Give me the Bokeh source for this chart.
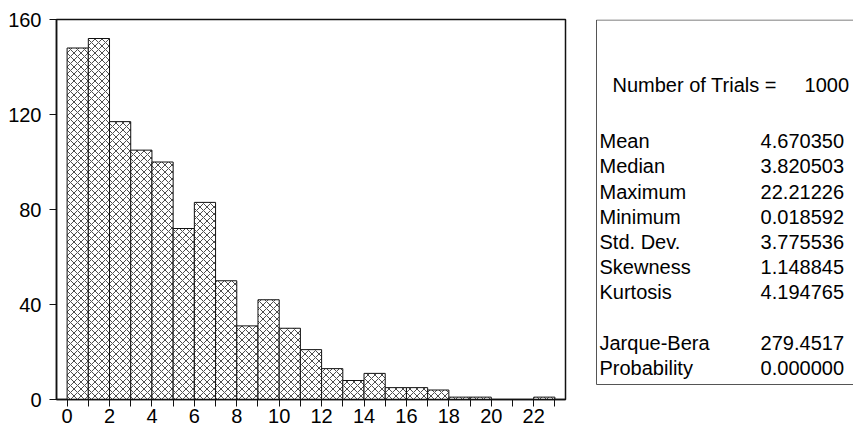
from bokeh.plotting import figure
from bokeh.models import Range1d, FixedTicker, ColumnDataSource
from bokeh.layouts import row
from bokeh.embed import file_html
from bokeh.resources import INLINE
from bokeh.core.properties import value

# ---- data ----
bin_left = [0, 1, 2, 3, 4, 5, 6, 7, 8, 9, 10, 11, 12, 13, 14, 15, 16, 17, 18, 19, 20, 21, 22]
bin_right = [1, 2, 3, 4, 5, 6, 7, 8, 9, 10, 11, 12, 13, 14, 15, 16, 17, 18, 19, 20, 21, 22, 23]
counts = [148, 152, 117, 105, 100, 72, 83, 50, 31, 42, 30, 21, 13, 8, 11, 5, 5, 4, 1, 1, 0, 0, 1]
x_major_ticks = [0, 2, 4, 6, 8, 10, 12, 14, 16, 18, 20, 22]
x_minor_ticks = [1, 3, 5, 7, 9, 11, 13, 15, 17, 19, 21, 23]
y_ticks = [0, 40, 80, 120, 160]

trials_label = "Number of Trials ="
trials_value = "1000"
stat_labels = ["Mean", "Median", "Maximum", "Minimum", "Std. Dev.", "Skewness", "Kurtosis",
               "Jarque-Bera", "Probability"]
stat_values = ["4.670350", "3.820503", "22.21226", "0.018592", "3.775536", "1.148845", "4.194765",
               "279.4517", "0.000000"]
stat_rows = [0, 1, 2, 3, 4, 5, 6, 8, 9]

FONT = "Liberation Sans"
FS = "20px"
INK = "#111111"

# ---- histogram ----
H = 425
TOP = 19
BOTTOM = 26
p1 = figure(width=588, height=H, output_backend="svg", toolbar_location=None,
            x_range=Range1d(-0.5, 23.5), y_range=Range1d(0, 160),
            min_border_left=56, min_border_right=23, min_border_top=TOP, min_border_bottom=0)
p1.xgrid.visible = False
p1.ygrid.visible = False
p1.background_fill_color = "white"
p1.border_fill_color = "white"
p1.outline_line_color = INK
p1.outline_line_width = 1.5

src = ColumnDataSource(dict(left=bin_left, right=bin_right, top=counts, bottom=[0] * len(counts)))
p1.quad(left="left", right="right", top="top", bottom="bottom", source=src,
        fill_color="white", line_color=INK, line_width=1,
        hatch_pattern="diagonal_cross", hatch_scale=7, hatch_color="#4d4d4d", hatch_weight=1)

xa = p1.xaxis[0]
xa.ticker = FixedTicker(ticks=x_major_ticks, minor_ticks=x_minor_ticks)
xa.major_tick_out = 7
xa.major_tick_in = 0
xa.minor_tick_out = 7
xa.minor_tick_in = 0
xa.major_tick_line_color = INK
xa.minor_tick_line_color = INK
xa.axis_line_color = INK
xa.axis_line_width = 1.5
xa.major_label_standoff = 2
xa.major_label_text_font = FONT
xa.major_label_text_font_size = FS
xa.major_label_text_color = "black"

ya = p1.yaxis[0]
ya.ticker = FixedTicker(ticks=y_ticks, minor_ticks=[])
ya.major_tick_out = 7
ya.major_tick_in = 0
ya.major_tick_line_color = INK
ya.axis_line_color = INK
ya.axis_line_width = 1.5
ya.major_label_standoff = 8
ya.major_label_text_font = FONT
ya.major_label_text_font_size = FS
ya.major_label_text_color = "black"

# ---- statistics panel (coordinates: panel pixels in x, page pixels in y, downwards) ----
W2 = 265
p2 = figure(width=W2, height=H, output_backend="svg", toolbar_location=None,
            x_range=Range1d(0, W2), y_range=Range1d(H - BOTTOM, TOP),
            min_border_left=0, min_border_right=0,
            min_border_top=TOP, min_border_bottom=BOTTOM)
p2.axis.visible = False
p2.xgrid.visible = False
p2.ygrid.visible = False
p2.outline_line_color = None
p2.background_fill_color = "white"
p2.border_fill_color = "white"

box_left, box_top, box_bottom = 8, 19.5, 384
p2.quad(left=[box_left], right=[W2 + 20], top=[box_top], bottom=[box_bottom],
        fill_color=None, line_color="#555555", line_width=1)

p2.text(x=[24], y=[84], text=[trials_label], text_font=value(FONT), text_font_size=FS,
        text_baseline="middle", text_align="left", text_color="black")
p2.text(x=[260.5], y=[84], text=[trials_value], text_font=value(FONT), text_font_size=FS,
        text_baseline="middle", text_align="right", text_color="black")

row0, step = 140.7, 25.2
ys = [row0 + step * r for r in stat_rows]
p2.text(x=[11] * len(stat_labels), y=ys, text=stat_labels, text_font=value(FONT),
        text_font_size=FS, text_baseline="middle", text_align="left", text_color="black")
p2.text(x=[255.5] * len(stat_values), y=ys, text=stat_values, text_font=value(FONT),
        text_font_size=FS, text_baseline="middle", text_align="right", text_color="black")

layout = row(p1, p2)
open("out.html", "w").write(file_html(layout, INLINE))
